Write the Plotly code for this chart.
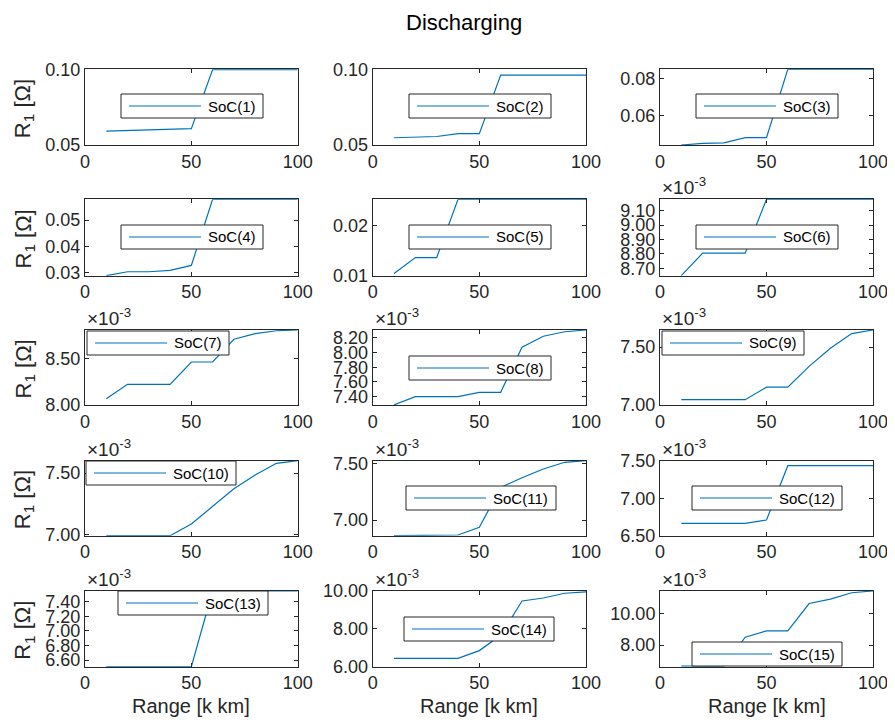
import plotly.graph_objects as go

# ---------------- data ----------------
x_km = [10, 20, 30, 40, 50, 60, 70, 80, 90, 100]

soc1 = [0.0592, 0.0597, 0.0598, 0.0607, 0.0608, 0.0998, 0.0998, 0.0998, 0.0998, 0.0998]
soc2 = [0.0548, 0.0554, 0.0556, 0.0575, 0.0575, 0.0962, 0.0962, 0.0962, 0.0962, 0.0962]
soc3 = [0.0443, 0.0452, 0.0454, 0.0482, 0.0482, 0.0848, 0.0848, 0.0848, 0.0848, 0.0848]
soc4 = [0.0289, 0.0304, 0.0304, 0.0309, 0.0328, 0.0579, 0.0579, 0.0579, 0.0579, 0.0579]
soc5 = [0.0104, 0.0136, 0.0136, 0.02535, 0.02535, 0.02535, 0.02535, 0.02535, 0.02535, 0.02535]
soc6 = [8.650e-3, 8.805e-3, 8.805e-3, 8.805e-3, 9.179e-3, 9.179e-3, 9.179e-3, 9.179e-3, 9.179e-3, 9.179e-3]
soc7 = [8.068e-3, 8.225e-3, 8.225e-3, 8.225e-3, 8.467e-3, 8.467e-3, 8.714e-3, 8.775e-3, 8.807e-3, 8.815e-3]
soc8 = [7.290e-3, 7.400e-3, 7.400e-3, 7.400e-3, 7.459e-3, 7.459e-3, 8.070e-3, 8.220e-3, 8.280e-3, 8.304e-3]
soc9 = [7.046e-3, 7.046e-3, 7.046e-3, 7.046e-3, 7.154e-3, 7.154e-3, 7.334e-3, 7.490e-3, 7.617e-3, 7.648e-3]
soc10 = [6.990e-3, 6.990e-3, 6.990e-3, 6.990e-3, 7.086e-3, 7.232e-3, 7.372e-3, 7.484e-3, 7.580e-3, 7.601e-3]
soc11 = [6.862e-3, 6.862e-3, 6.862e-3, 6.868e-3, 6.936e-3, 7.288e-3, 7.373e-3, 7.450e-3, 7.509e-3, 7.523e-3]
soc12 = [6.665e-3, 6.665e-3, 6.665e-3, 6.665e-3, 6.709e-3, 7.433e-3, 7.433e-3, 7.433e-3, 7.433e-3, 7.433e-3]
soc13 = [6.508e-3, 6.508e-3, 6.508e-3, 6.508e-3, 6.508e-3, 7.547e-3, 7.547e-3, 7.547e-3, 7.547e-3, 7.547e-3]
soc14 = [6.44e-3, 6.44e-3, 6.44e-3, 6.44e-3, 6.85e-3, 7.66e-3, 9.47e-3, 9.63e-3, 9.88e-3, 9.95e-3]
soc15 = [6.66e-3, 6.66e-3, 6.66e-3, 8.49e-3, 8.89e-3, 8.89e-3, 10.62e-3, 10.90e-3, 11.30e-3, 11.41e-3]

series = [soc1, soc2, soc3, soc4, soc5, soc6, soc7, soc8, soc9, soc10,
          soc11, soc12, soc13, soc14, soc15]
series_names = ["SoC(%d)" % (i + 1) for i in range(15)]

# display exponent (MATLAB style x10^-3)
exponents = [0, 0, 0, 0, 0, -3, -3, -3, -3, -3, -3, -3, -3, -3, -3]

# y limits and ticks in displayed units
y_limits = [
    [0.05, 0.10], [0.05, 0.10], [0.0443, 0.0848],
    [0.0289, 0.0579], [0.00995, 0.02535], [8.649, 9.179],
    [8.00, 8.815], [7.2875, 8.304], [7.00, 7.648],
    [6.99, 7.601], [6.862, 7.523], [6.50, 7.50],
    [6.508, 7.547], [6.00, 10.00], [6.63, 11.41],
]
y_tick_values = [
    [0.05, 0.10], [0.05, 0.10], [0.06, 0.08],
    [0.03, 0.04, 0.05], [0.01, 0.02], [8.7, 8.8, 8.9, 9.0, 9.1],
    [8.0, 8.5], [7.4, 7.6, 7.8, 8.0, 8.2], [7.0, 7.5],
    [7.0, 7.5], [7.0, 7.5], [6.5, 7.0, 7.5],
    [6.6, 6.8, 7.0, 7.2, 7.4], [6.0, 8.0, 10.0], [8.0, 10.0],
]
x_tick_values = [0, 50, 100]

title_text = "Discharging"
x_label = "Range [k km]"
y_label = "R<sub>1</sub> [Ω]"

# ---------------- layout geometry (window pixels) ----------------
WIN_W, WIN_H = 895, 724
OFF = 8                      # default page body margin around the plot div
W, H = WIN_W - OFF, WIN_H - OFF
cols_px = [(85, 297.7), (372.7, 586), (660, 873)]
rows_px = [(69.3, 145), (199.3, 275.7), (330, 405), (460.7, 535.7), (591, 666.7)]
legend_px = [(121, 94), (409, 94), (696, 94), (121, 225), (409, 225), (696, 225),
             (87, 331), (409, 356), (662, 331), (86, 461), (406, 486), (692, 486),
             (118, 591), (404, 617), (692, 642)]
LEG_H = 24

FONT = "Liberation Sans, Arial, Helvetica, sans-serif"
AXC = "#262626"
LINEC = "#0072BD"


def px(xp):
    return (xp - OFF) / W


def py(yp):
    return 1 - (yp - OFF) / H


fig = go.Figure()
layout = dict(
    template="none",
    width=W, height=H,
    margin=dict(l=0, r=0, t=0, b=0, pad=0, autoexpand=False),
    paper_bgcolor="white", plot_bgcolor="white",
    font=dict(family=FONT, color=AXC, size=18),
    showlegend=False,
    annotations=[], shapes=[],
)

for i in range(15):
    r, c = divmod(i, 3)
    sfx = "" if i == 0 else str(i + 1)
    scale = 10 ** (-exponents[i])
    fig.add_trace(go.Scatter(
        x=x_km, y=[v * scale for v in series[i]], mode="lines",
        line=dict(color=LINEC, width=1.2), name=series_names[i],
        xaxis="x" + sfx, yaxis="y" + sfx, showlegend=False,
    ))
    x0, x1 = cols_px[c]
    y0, y1 = rows_px[r]
    common = dict(showline=True, linecolor=AXC, linewidth=1, mirror="allticks",
                  ticks="inside", ticklen=4, tickcolor=AXC, tickwidth=1,
                  showgrid=False, zeroline=False, automargin=False,
                  tickfont=dict(family=FONT, size=18, color=AXC))
    layout["xaxis" + sfx] = dict(domain=[px(x0), px(x1)], anchor="y" + sfx,
                                 range=[0, 100], tickvals=x_tick_values, **common)
    layout["yaxis" + sfx] = dict(domain=[py(y1), py(y0)], anchor="x" + sfx,
                                 range=y_limits[i], tickvals=y_tick_values[i],
                                 tickformat=".2f", **common)

    # legend box (MATLAB style: wide line sample + label)
    lx, ly = legend_px[i]
    lw = 94 + 8 * len(series_names[i])
    layout["shapes"].append(dict(
        type="rect", xref="paper", yref="paper", layer="above",
        x0=px(lx), x1=px(lx + lw), y0=py(ly + LEG_H), y1=py(ly),
        fillcolor="white", line=dict(color=AXC, width=1)))
    layout["shapes"].append(dict(
        type="line", xref="paper", yref="paper", layer="above",
        x0=px(lx + 8), x1=px(lx + 80), y0=py(ly + LEG_H / 2), y1=py(ly + LEG_H / 2),
        line=dict(color=LINEC, width=1.2)))
    layout["annotations"].append(dict(
        x=px(lx + 85), y=py(ly + LEG_H / 2), xref="paper", yref="paper",
        xanchor="left", yanchor="middle", showarrow=False,
        text=series_names[i], font=dict(family=FONT, size=15, color="black")))

    if exponents[i] != 0:
        layout["annotations"].append(dict(
            x=px(x0), y=py(y0), xref="paper", yref="paper",
            xanchor="left", yanchor="bottom", showarrow=False, yshift=-1,
            text="×10<sup>%d</sup>" % exponents[i],
            font=dict(family=FONT, size=19, color=AXC)))
    if c == 0:
        layout["annotations"].append(dict(
            x=px(24), y=py((y0 + y1) / 2 + 2), xref="paper", yref="paper",
            xanchor="center", yanchor="middle", showarrow=False, textangle=-90,
            text=y_label, font=dict(family=FONT, size=22, color=AXC)))
    if r == 4:
        layout["annotations"].append(dict(
            x=px((x0 + x1) / 2), y=py(706), xref="paper", yref="paper",
            xanchor="center", yanchor="middle", showarrow=False,
            text=x_label, font=dict(family=FONT, size=20, color=AXC)))

layout["annotations"].append(dict(
    x=px(464), y=1, xref="paper", yref="paper", xanchor="center",
    yanchor="top", showarrow=False, text=title_text,
    font=dict(family=FONT, size=22, color="black")))

fig.update_layout(**layout)
fig.write_html("out.html")
